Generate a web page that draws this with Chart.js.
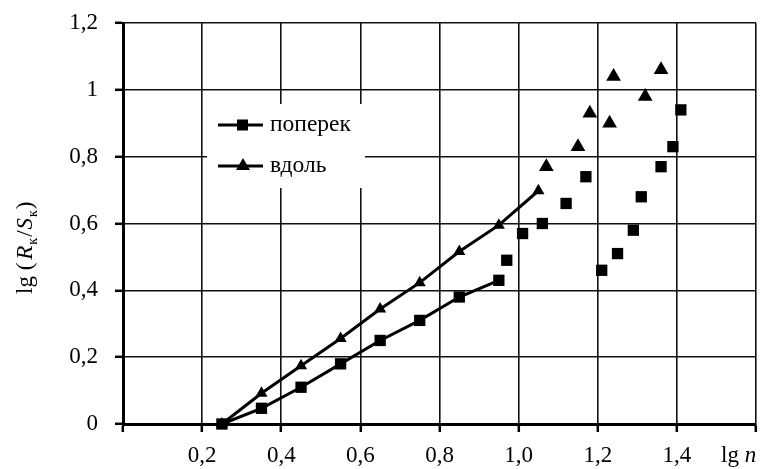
<!DOCTYPE html>
<html>
<head>
<meta charset="utf-8">
<script src="https://cdn.jsdelivr.net/npm/chart.js@4.4.0/dist/chart.umd.min.js"></script>
<style>
html, body { margin: 0; padding: 0; background: #fff; }
</style>
</head>
<body>
<canvas id="chart" width="768" height="469"></canvas>
<script>
// lg n values for the fitted lines
var lineX = [0.25, 0.35, 0.45, 0.55, 0.65, 0.75, 0.85, 0.95, 1.05];
var poperekLine = [0, 0.047, 0.11, 0.18, 0.25, 0.31, 0.38, 0.43];
var vdolLine = [0, 0.092, 0.174, 0.256, 0.344, 0.423, 0.516, 0.595, 0.698];

// loose points, no line
var poperekX = [0.97, 1.01, 1.06, 1.12, 1.17, 1.21, 1.25, 1.29, 1.31, 1.36, 1.39, 1.41];
var poperekY = [0.49, 0.57, 0.60, 0.66, 0.74, 0.46, 0.51, 0.58, 0.68, 0.77, 0.83, 0.94];
var vdolX = [1.07, 1.15, 1.18, 1.23, 1.24, 1.32, 1.36];
var vdolY = [0.77, 0.83, 0.93, 0.90, 1.04, 0.98, 1.06];

var seriesNames = ["поперек", "вдоль"];
var xTicks = [0, 0.2, 0.4, 0.6, 0.8, 1.0, 1.2, 1.4, 1.6];
var yTicks = [0, 0.2, 0.4, 0.6, 0.8, 1.0, 1.2];

var serif = "'Liberation Serif', 'Times New Roman', serif";

function pts(xs, ys) {
  var out = [];
  for (var i = 0; i < ys.length; i++) out.push({x: xs[i], y: ys[i]});
  return out;
}

function comma(v) {
  v = Math.round(v * 10) / 10;
  return v.toFixed(1).replace(".", ",");
}

// legend box + axis captions drawn by hand
var extras = {
  id: "extras",
  afterDraw: function(chart) {
    var ctx = chart.ctx;
    ctx.save();

    // legend
    ctx.fillStyle = "#fff";
    ctx.fillRect(207, 104, 158, 84);
    var rows = [125, 166];
    for (var i = 0; i < 2; i++) {
      var y = rows[i];
      ctx.strokeStyle = "#000";
      ctx.lineWidth = 3;
      ctx.beginPath();
      ctx.moveTo(218, y);
      ctx.lineTo(263, y);
      ctx.stroke();
      ctx.fillStyle = "#000";
      if (i == 0) {
        ctx.fillRect(237, y - 5.5, 11, 11);
      } else {
        ctx.beginPath();
        ctx.moveTo(243, y - 8);
        ctx.lineTo(250, y + 4);
        ctx.lineTo(236, y + 4);
        ctx.closePath();
        ctx.fill();
      }
      ctx.font = "23.5px " + serif;
      ctx.textBaseline = "middle";
      ctx.textAlign = "left";
      ctx.fillText(seriesNames[i], 270, y);
    }

    // x caption "lg n"
    ctx.textBaseline = "alphabetic";
    ctx.font = "23px " + serif;
    ctx.fillText("lg ", 721, 462);
    var w = ctx.measureText("lg ").width;
    ctx.font = "italic 23px " + serif;
    ctx.fillText("n", 721 + w, 462);

    // y caption lg (Rк/Sк)
    ctx.translate(32, 294);
    ctx.rotate(-Math.PI / 2);
    var parts = [
      ["lg (", "23px", "", 0],
      ["R", "23px", "italic ", 0],
      ["к", "14px", "", 5],
      ["/", "23px", "", 0],
      ["S", "23px", "italic ", 0],
      ["к", "14px", "", 5],
      [")", "23px", "", 0]
    ];
    var px = 0;
    for (var j = 0; j < parts.length; j++) {
      ctx.font = parts[j][2] + parts[j][1] + " " + serif;
      ctx.fillText(parts[j][0], px, parts[j][3]);
      px += ctx.measureText(parts[j][0]).width + (j == 0 ? 3 : 1);
    }
    ctx.restore();
  }
};

var ctx = document.getElementById("chart").getContext("2d");

var myChart = new Chart(ctx, {
  type: "scatter",
  data: {
    datasets: [
      {
        label: seriesNames[0],
        data: pts(lineX, poperekLine),
        showLine: true,
        borderColor: "#000",
        borderWidth: 3,
        backgroundColor: "#000",
        pointStyle: "rect",
        pointRadius: 8,
        pointBorderWidth: 0,
        clip: false,
        order: 0
      },
      {
        label: seriesNames[1],
        data: pts(lineX, vdolLine),
        showLine: true,
        borderColor: "#000",
        borderWidth: 3,
        backgroundColor: "#000",
        pointStyle: "triangle",
        pointRadius: 7,
        pointBorderWidth: 0,
        clip: false,
        order: 1
      },
      {
        label: seriesNames[0] + " (2)",
        data: pts(poperekX, poperekY),
        showLine: false,
        backgroundColor: "#000",
        borderColor: "#000",
        pointStyle: "rect",
        pointRadius: 8,
        pointBorderWidth: 0,
        order: 0
      },
      {
        label: seriesNames[1] + " (2)",
        data: pts(vdolX, vdolY),
        showLine: false,
        backgroundColor: "#000",
        borderColor: "#000",
        pointStyle: "triangle",
        pointRadius: 8.5,
        pointBorderWidth: 0,
        order: 1
      }
    ]
  },
  options: {
    responsive: false,
    animation: false,
    devicePixelRatio: 1,
    layout: { padding: { left: 0, right: 12, top: 23, bottom: 0 } },
    plugins: {
      legend: { display: false },
      tooltip: { enabled: false }
    },
    scales: {
      x: {
        type: "linear",
        min: 0,
        max: 1.6,
        afterBuildTicks: function(scale) {
          scale.ticks = xTicks.map(function(v) { return {value: v}; });
        },
        afterFit: function(scale) {
          scale.height = 45;
          scale.paddingLeft = 0;
          scale.paddingRight = 0;
        },
        grid: { color: "#111", lineWidth: 1.6, tickLength: 8, tickColor: "#000", tickWidth: 2.5 },
        border: { color: "#000", width: 3 },
        ticks: {
          color: "#000",
          font: { family: serif, size: 23 },
          padding: 10,
          maxRotation: 0,
          autoSkip: false,
          callback: function(v) {
            if (v == 0 || v > 1.5) return "";
            return comma(v);
          }
        }
      },
      y: {
        type: "linear",
        min: 0,
        max: 1.2,
        afterBuildTicks: function(scale) {
          scale.ticks = yTicks.map(function(v) { return {value: v}; });
        },
        afterFit: function(scale) {
          scale.width = 123;
          scale.paddingTop = 0;
          scale.paddingBottom = 0;
        },
        grid: { color: "#111", lineWidth: 1.6, tickLength: 8, tickColor: "#000", tickWidth: 2.5 },
        border: { color: "#000", width: 3 },
        ticks: {
          color: "#000",
          font: { family: serif, size: 23 },
          padding: 17,
          callback: function(v) {
            v = Math.round(v * 10) / 10;
            if (v == 0) return "0";
            if (v == 1) return "1";
            return comma(v);
          }
        }
      }
    }
  },
  plugins: [extras]
});
</script>
</body>
</html>
